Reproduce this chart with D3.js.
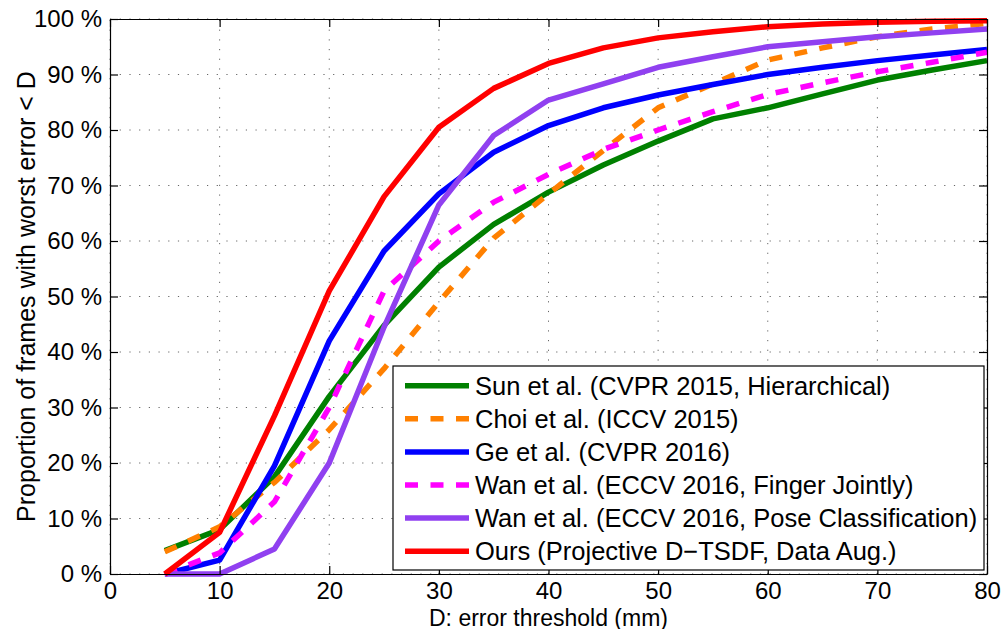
<!DOCTYPE html>
<html>
<head>
<meta charset="utf-8">
<script src="https://cdn.jsdelivr.net/npm/d3@7"></script>
<style>
  body { margin: 0; background: #fff; }
  svg { font-family: "Liberation Sans", Arial, sans-serif; }
  .grid line { stroke: #666; stroke-width: 1; stroke-dasharray: 1.2, 8.5; }
  .axis path, .axis line { stroke: #000; stroke-width: 1.2; }
  .axis text { font-size: 24px; fill: #000; font-family: "Liberation Sans", Arial, sans-serif; }
</style>
</head>
<body>
<svg width="1004" height="629"></svg>
<script>
// error thresholds (mm)
var thresholds = [5, 10, 15, 20, 25, 30, 35, 40, 45, 50, 55, 60, 65, 70, 75, 80];

// proportion of frames (%)
var sunHier   = [4.2, 8, 17.5, 32, 44.8, 55.3, 63, 68.8, 73.7, 78, 82, 84, 86.5, 89, 90.8, 92.5];
var choi      = [4, 8.5, 16.5, 26, 37, 49, 60.5, 68.5, 76.3, 84, 88.3, 92.6, 94.8, 96.8, 98.2, 99.2];
var ge        = [0, 2.5, 19.5, 42, 58.2, 68.5, 76, 80.8, 84, 86.3, 88.2, 90, 91.3, 92.5, 93.5, 94.5];
var wanFinger = [0, 3.8, 13, 30, 51, 60, 67, 72, 76.5, 80, 83.3, 86.4, 88.5, 90.5, 92.2, 94];
var wanPose   = [0, 0, 4.5, 20, 44.5, 66.5, 79, 85.4, 88.3, 91.3, 93.2, 95, 95.9, 96.8, 97.5, 98.2];
var ours      = [0, 7.5, 28.5, 51, 68, 80.5, 87.5, 92, 94.8, 96.6, 97.7, 98.6, 99.1, 99.4, 99.6, 99.7];

var seriesNames = [
    "Sun et al. (CVPR 2015, Hierarchical)",
    "Choi et al. (ICCV 2015)",
    "Ge et al. (CVPR 2016)",
    "Wan et al. (ECCV 2016, Finger Jointly)",
    "Wan et al. (ECCV 2016, Pose Classification)",
    "Ours (Projective D\u2212TSDF, Data Aug.)"
];
var seriesValues = [sunHier, choi, ge, wanFinger, wanPose, ours];
var seriesColors = ["#008000", "#ff8000", "#0000ff", "#ff00ff", "#9040f0", "#ff0000"];
var seriesDashed = [false, true, false, true, false, false];

var xTicks = [0, 10, 20, 30, 40, 50, 60, 70, 80];
var yTicks = [0, 10, 20, 30, 40, 50, 60, 70, 80, 90, 100];

var svg = d3.select("svg");

var x = d3.scaleLinear().domain([0, 80]).range([110, 987]);
var y = d3.scaleLinear().domain([0, 100]).range([574, 19]);

// dotted grid
var grid = svg.append("g").attr("class", "grid");
grid.selectAll("line.v")
    .data(xTicks)
    .enter().append("line")
    .attr("class", "v")
    .attr("x1", function (d) { return x(d); })
    .attr("x2", function (d) { return x(d); })
    .attr("y1", y(0))
    .attr("y2", y(100));
grid.selectAll("line.h")
    .data(yTicks)
    .enter().append("line")
    .attr("class", "h")
    .attr("x1", x(0))
    .attr("x2", x(80))
    .attr("y1", function (d) { return y(d); })
    .attr("y2", function (d) { return y(d); });

// curves
var line = d3.line()
    .x(function (d) { return x(d[0]); })
    .y(function (d) { return y(d[1]); });

svg.append("g")
    .selectAll("path")
    .data(seriesValues)
    .enter().append("path")
    .attr("d", function (vals) {
        return line(vals.map(function (v, i) { return [thresholds[i], v]; }));
    })
    .attr("fill", "none")
    .attr("stroke", function (d, i) { return seriesColors[i]; })
    .attr("stroke-width", 5.5)
    .attr("stroke-linejoin", "round")
    .attr("stroke-dasharray", function (d, i) { return seriesDashed[i] ? "13,12.5" : null; });

// axes with inward ticks on all four sides
svg.append("g")
    .attr("class", "axis")
    .attr("transform", "translate(0," + y(0) + ")")
    .call(d3.axisBottom(x).tickValues(xTicks).tickSizeInner(-8).tickSizeOuter(0).tickPadding(8));

svg.append("g")
    .attr("class", "axis")
    .attr("transform", "translate(0," + y(100) + ")")
    .call(d3.axisTop(x).tickValues(xTicks).tickSizeInner(-8).tickSizeOuter(0).tickFormat(""));

svg.append("g")
    .attr("class", "axis")
    .attr("transform", "translate(" + x(0) + ",0)")
    .call(d3.axisLeft(y).tickValues(yTicks).tickSizeInner(-8).tickSizeOuter(0).tickPadding(8)
        .tickFormat(function (d) { return d + " %"; }));

svg.append("g")
    .attr("class", "axis")
    .attr("transform", "translate(" + x(80) + ",0)")
    .call(d3.axisRight(y).tickValues(yTicks).tickSizeInner(-8).tickSizeOuter(0).tickFormat(""));

// axis titles
svg.append("text")
    .attr("x", (x(0) + x(80)) / 2)
    .attr("y", 625.5)
    .attr("text-anchor", "middle")
    .attr("font-size", 23)
    .text("D: error threshold (mm)");

svg.append("text")
    .attr("transform", "translate(35," + (y(0) + y(100)) / 2 + ") rotate(-90)")
    .attr("text-anchor", "middle")
    .attr("font-size", 25)
    .text("Proportion of frames with worst error < D");

// legend
var legend = svg.append("g");
legend.append("rect")
    .attr("x", 393)
    .attr("y", 366)
    .attr("width", 591)
    .attr("height", 204)
    .attr("fill", "#fff")
    .attr("stroke", "#000")
    .attr("stroke-width", 1.2);

var rows = legend.selectAll("g.row")
    .data(seriesNames)
    .enter().append("g")
    .attr("class", "row")
    .attr("transform", function (d, i) { return "translate(0," + (385.7 + i * 33.1) + ")"; });

rows.append("line")
    .attr("x1", 405)
    .attr("x2", 469)
    .attr("stroke", function (d, i) { return seriesColors[i]; })
    .attr("stroke-width", 5.5)
    .attr("stroke-dasharray", function (d, i) { return seriesDashed[i] ? "13,12.5" : null; });

rows.append("text")
    .attr("x", 475)
    .attr("dy", "0.35em")
    .attr("font-size", 25.5)
    .text(function (d) { return d; });
</script>
</body>
</html>
